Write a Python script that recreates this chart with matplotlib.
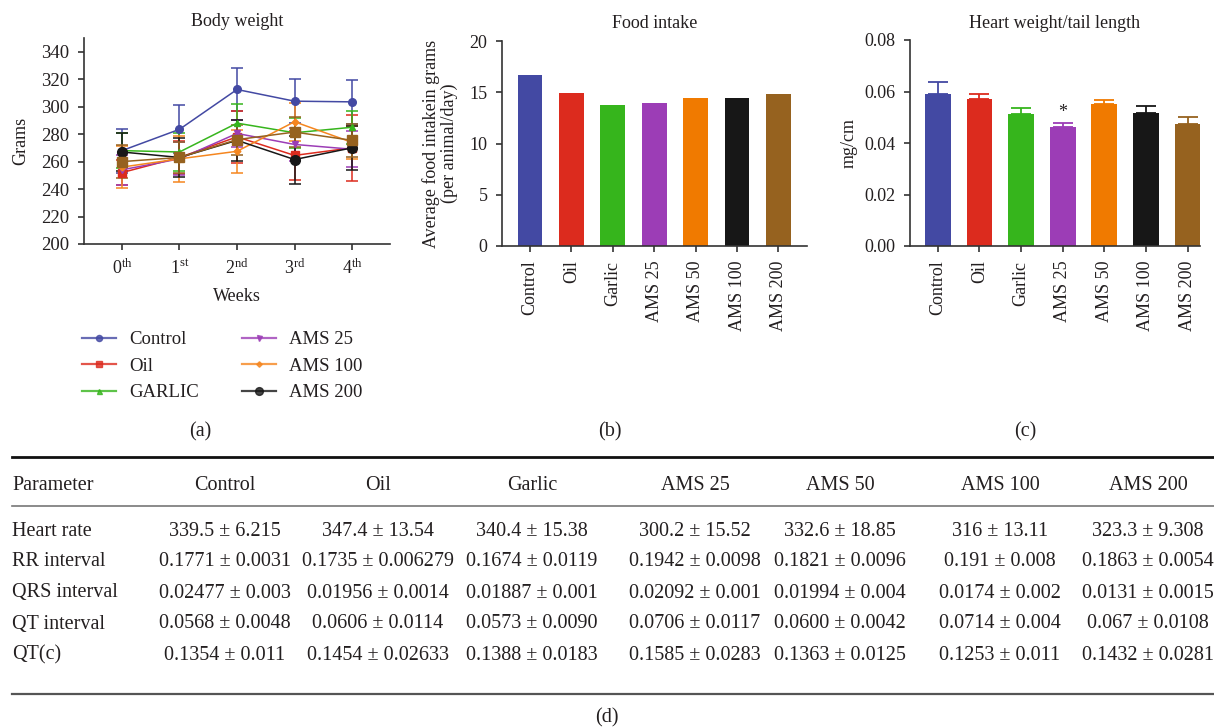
import numpy as np
import matplotlib.pyplot as plt
from matplotlib.lines import Line2D

plt.rcParams['font.family'] = ['Liberation Serif', 'DejaVu Serif']
plt.rcParams['mathtext.fontset'] = 'custom'
plt.rcParams['mathtext.rm'] = 'Liberation Serif'
plt.rcParams['mathtext.it'] = 'Liberation Serif:italic'
plt.rcParams['mathtext.bf'] = 'Liberation Serif:bold'
TXT = '#231f20'
plt.rcParams['text.color'] = TXT
plt.rcParams['axes.labelcolor'] = TXT
plt.rcParams['xtick.color'] = '#333333'
plt.rcParams['ytick.color'] = '#333333'
plt.rcParams['xtick.labelcolor'] = TXT
plt.rcParams['ytick.labelcolor'] = TXT

# ---- data ----
weeks = [r'$\mathrm{0^{th}}$', r'$\mathrm{1^{st}}$', r'$\mathrm{2^{nd}}$',
         r'$\mathrm{3^{rd}}$', r'$\mathrm{4^{th}}$']

bw_control = [268, 283.5, 312.5, 304, 303.5]
bw_control_err = [16, 17.5, 16, 16, 16]
bw_oil = [252, 263, 278, 264.5, 270]
bw_oil_err = [9, 12, 19, 18, 24]
bw_garlic = [268, 267, 288, 281, 285]
bw_garlic_err = [13, 14, 14, 11, 12]
bw_ams25 = [254, 262, 280.5, 272.5, 269]
bw_ams25_err = [11, 12, 10, 12, 13]
bw_ams50 = [260, 263, 276, 281.5, 275.5]
bw_ams50_err = [12, 11, 11, 11, 12]
bw_ams100 = [256, 262, 267.5, 289, 274]
bw_ams100_err = [15, 17, 15.5, 14, 12]
bw_ams200 = [267, 263, 275.5, 261.5, 270]
bw_ams200_err = [14, 14, 15, 17.5, 16]

groups = ['Control', 'Oil', 'Garlic', 'AMS 25', 'AMS 50', 'AMS 100', 'AMS 200']
food_intake = [16.7, 14.93, 13.75, 13.92, 14.47, 14.47, 14.86]
heart_ratio = [0.0589, 0.0571, 0.0514, 0.0463, 0.0551, 0.0515, 0.0475]
heart_ratio_err = [0.0048, 0.0019, 0.0022, 0.0015, 0.0015, 0.0030, 0.0027]

colors = ['#4349A3', '#DC2B1E', '#36B51C', '#9C3DB6', '#F07A00', '#171717', '#96621F']

table_params = ['Heart rate', 'RR interval', 'QRS interval', 'QT interval', 'QT(c)']
table_mean = [
    ['339.5', '347.4', '340.4', '300.2', '332.6', '316', '323.3'],
    ['0.1771', '0.1735', '0.1674', '0.1942', '0.1821', '0.191', '0.1863'],
    ['0.02477', '0.01956', '0.01887', '0.02092', '0.01994', '0.0174', '0.0131'],
    ['0.0568', '0.0606', '0.0573', '0.0706', '0.0600', '0.0714', '0.067'],
    ['0.1354', '0.1454', '0.1388', '0.1585', '0.1363', '0.1253', '0.1432'],
]
table_sd = [
    ['6.215', '13.54', '15.38', '15.52', '18.85', '13.11', '9.308'],
    ['0.0031', '0.006279', '0.0119', '0.0098', '0.0096', '0.008', '0.0054'],
    ['0.003', '0.0014', '0.001', '0.001', '0.004', '0.002', '0.0015'],
    ['0.0048', '0.0114', '0.0090', '0.0117', '0.0042', '0.004', '0.0108'],
    ['0.011', '0.02633', '0.0183', '0.0283', '0.0125', '0.011', '0.0281'],
]

W, H = 1214, 728
fig = plt.figure(figsize=(W / 100, H / 100), dpi=100)


def fx(x):
    return x / W


def fy(y):
    return 1 - y / H


def px_axes(l, t, r, b):
    return fig.add_axes([fx(l), fy(b), (r - l) / W, (b - t) / H])


def style(ax):
    for s in ['top', 'right']:
        ax.spines[s].set_visible(False)
    for s in ['left', 'bottom']:
        ax.spines[s].set_linewidth(1.2)
        ax.spines[s].set_color('#333333')
    ax.tick_params(width=1.2, length=4.5, labelsize=13, pad=6)


# ---- (a) body weight ----
ax = px_axes(84, 38, 390, 244)
style(ax)
x = np.arange(len(weeks))
series = [
    (bw_control, bw_control_err, colors[0], 'o', 5.5),
    (bw_oil, bw_oil_err, colors[1], 's', 6),
    (bw_garlic, bw_garlic_err, colors[2], '^', 4.5),
    (bw_ams25, bw_ams25_err, colors[3], 'v', 4.5),
    (bw_ams100, bw_ams100_err, '#F5861F', 'D', 3.5),
    (bw_ams200, bw_ams200_err, colors[5], 'o', 7),
    (bw_ams50, bw_ams50_err, colors[6], 's', 7.5),
]
for vals, err, c, m, ms in series:
    ax.errorbar(x, vals, yerr=err, color=c, marker=m, ms=ms, lw=1.1,
                elinewidth=1.1, capsize=4, capthick=1.1)
ax.set_xlim(-0.66, 4.66)
ax.set_ylim(200, 350)
ax.set_yticks(range(200, 341, 20))
ax.tick_params(axis='y', labelsize=13.5)
ax.set_xticks(x)
ax.set_xticklabels(weeks)
ax.tick_params(axis='x', pad=6)
ax.set_title('Body weight', fontsize=13, pad=9)
ax.set_ylabel('Grams', fontsize=13)
ax.yaxis.set_label_coords(-0.18, 0.5)
ax.set_xlabel('Weeks', fontsize=13)
ax.xaxis.set_label_coords(0.5, -0.215)

leg_labels = ['Control', 'Oil', 'GARLIC', 'AMS 25', 'AMS 100', 'AMS 200']
leg_idx = [0, 1, 2, 3, 4, 5]
handles = [Line2D([], [], color=series[i][2], marker=series[i][3],
                  ms=series[i][4] * 0.8, lw=1.6, alpha=0.8) for i in leg_idx]
fig.legend(handles, leg_labels, ncol=2, loc='upper left', frameon=False,
           bbox_to_anchor=(fx(82), fy(331)), borderpad=0, borderaxespad=0,
           fontsize=13.5, handlelength=1.8, handletextpad=0.7,
           labelspacing=0.5, columnspacing=2.3)

# ---- (b) food intake ----
ax = px_axes(502, 41, 807, 246)
style(ax)
xb = np.arange(len(groups))
ax.bar(xb, food_intake, width=0.6, color=colors)
ax.set_xlim(-0.676, 6.69)
ax.set_ylim(0, 20)
ax.set_yticks([0, 5, 10, 15, 20])
ax.set_xticks(xb)
ax.set_xticklabels(groups, rotation=90)
ax.set_title('Food intake', fontsize=13, pad=9)
ax.set_ylabel('Average food intakein grams\n(per animal/day)', fontsize=13,
              linespacing=1.0)
ax.yaxis.set_label_coords(-0.145, 0.5)

# ---- (c) heart weight / tail length ----
ax = px_axes(910, 40, 1200, 246)
style(ax)
ax.bar(xb, heart_ratio, width=0.62, color=colors)
for i in range(len(groups)):
    ax.errorbar(xb[i], heart_ratio[i], yerr=[[0], [heart_ratio_err[i]]],
                color=colors[i], elinewidth=1.3, capsize=7, capthick=1.3)
ax.text(xb[3], heart_ratio[3] + heart_ratio_err[3] + 0.0006, '*',
        ha='center', va='bottom', fontsize=13)
ax.set_xlim(-0.67, 6.3)
ax.set_ylim(0, 0.08)
ax.set_yticks([0, 0.02, 0.04, 0.06, 0.08])
ax.set_yticklabels(['0.00', '0.02', '0.04', '0.06', '0.08'])
ax.set_xticks(xb)
ax.set_xticklabels(groups, rotation=90)
ax.set_title('Heart weight/tail length', fontsize=13, pad=9)
ax.set_ylabel('mg/cm', fontsize=13)
ax.yaxis.set_label_coords(-0.18, 0.5)

# panel captions
for lab, cx in [('(a)', 200), ('(b)', 610), ('(c)', 1025)]:
    fig.text(fx(cx), fy(436), lab, ha='center', va='baseline', fontsize=14.5)

# ---- (d) table ----
fig.add_artist(Line2D([fx(12), fx(1214)], [fy(457), fy(457)], color='#111111',
                      lw=2.0, transform=fig.transFigure))
fig.add_artist(Line2D([fx(12), fx(1214)], [fy(506), fy(506)], color='#777777',
                      lw=1.2, transform=fig.transFigure))
fig.add_artist(Line2D([fx(12), fx(1214)], [fy(694), fy(694)], color='#555555',
                      lw=1.6, transform=fig.transFigure))

col_x = [225, 378, 532, 695, 840, 1000, 1148]
fs_t = 14.5
base = 6.5  # baseline offset below the visual row centre
fig.text(fx(12), fy(483 + base), 'Parameter', ha='left', va='baseline', fontsize=fs_t)
for g, cx in zip(groups, col_x):
    fig.text(fx(cx), fy(483 + base), g, ha='center', va='baseline', fontsize=fs_t)
row_y = [529, 560, 591, 622, 653]
for r, (p, ry) in enumerate(zip(table_params, row_y)):
    fig.text(fx(12), fy(ry + base), p, ha='left', va='baseline', fontsize=fs_t)
    for c, cx in enumerate(col_x):
        fig.text(fx(cx), fy(ry + base), f'{table_mean[r][c]} \u00b1 {table_sd[r][c]}',
                 ha='center', va='baseline', fontsize=fs_t)
fig.text(fx(607), fy(722), '(d)', ha='center', va='baseline', fontsize=14.5)

fig.savefig('out.png', dpi=100)
